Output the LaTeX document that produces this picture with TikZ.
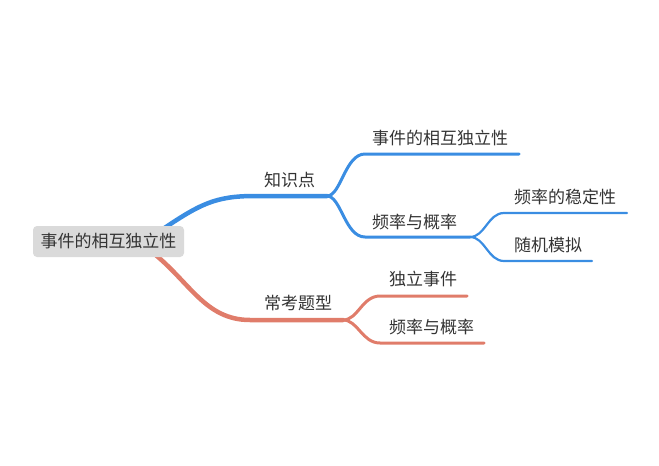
\documentclass[tikz,border=0pt]{standalone}
\usepackage{fontspec}
\setmainfont{Noto Sans CJK SC}
\definecolor{bblue}{RGB}{58,141,226}
\definecolor{rred}{RGB}{224,124,106}
\definecolor{txt}{RGB}{51,51,51}
\definecolor{boxfill}{RGB}{218,218,218}
\begin{document}
\begin{tikzpicture}[x=1pt,y=-1pt,
  lbl/.style={anchor=west,inner sep=0pt,text=txt,font=\fontsize{17}{18}\selectfont},
  rootbox/.style={fill=boxfill,rounded corners=4pt,text=txt,font=\fontsize{17}{18}\selectfont,minimum width=151pt,minimum height=31pt,inner sep=0pt},
  lone/.style={line width=4.5pt,line cap=round},
  ltwo/.style={line width=3pt,line cap=round},
  lthree/.style={line width=2.2pt,line cap=round}]
\useasboundingbox (0,0) rectangle (659,466);
% coordinates
\coordinate (bs) at (160,231);
\coordinate (kf) at (327,196);
\coordinate (e1) at (519,154);
\coordinate (pf) at (470,237);
\coordinate (e2) at (627,213);
\coordinate (e3) at (592,261);
\coordinate (rs) at (152,252);
\coordinate (cf) at (343,320);
\coordinate (e4) at (467,296);
\coordinate (e5) at (484,343);
% labels
\node[lbl] (zsd) at (264,180) {知识点};
\node[lbl] (ckt) at (264,303) {常考题型};
\node[lbl] (sj) at (372,138) {事件的相互独立性};
\node[lbl] (pl) at (372,222) {频率与概率};
\node[lbl] (wd) at (514,197) {频率的稳定性};
\node[lbl] (sm) at (514,245) {随机模拟};
\node[lbl] (dl) at (389,279) {独立事件};
\node[lbl] (pl2) at (389,327) {频率与概率};
% blue branches
\draw[bblue,lone] (bs) .. controls (200,204) and (215,196) .. (255,196) -- (kf);
\draw[bblue,ltwo] (kf) .. controls (341,196) and (345,154) .. (365,154) -- (e1);
\draw[bblue,ltwo] (kf) .. controls (341,196) and (345,237) .. (365,237) -- (pf);
\draw[bblue,lthree] (pf) .. controls (485,237) and (488,213) .. (504,213) -- (e2);
\draw[bblue,lthree] (pf) .. controls (485,237) and (488,261) .. (504,261) -- (e3);
% red branches
\draw[rred,lone] (rs) .. controls (190,282) and (205,320) .. (250,320) -- (cf);
\draw[rred,ltwo] (cf) .. controls (358,320) and (362,296) .. (380,296) -- (e4);
\draw[rred,ltwo] (cf) .. controls (358,320) and (362,343) .. (380,343) -- (e5);
% root on top
\node[rootbox] (root) at (108.5,241.5) {事件的相互独立性};
\end{tikzpicture}
\end{document}
